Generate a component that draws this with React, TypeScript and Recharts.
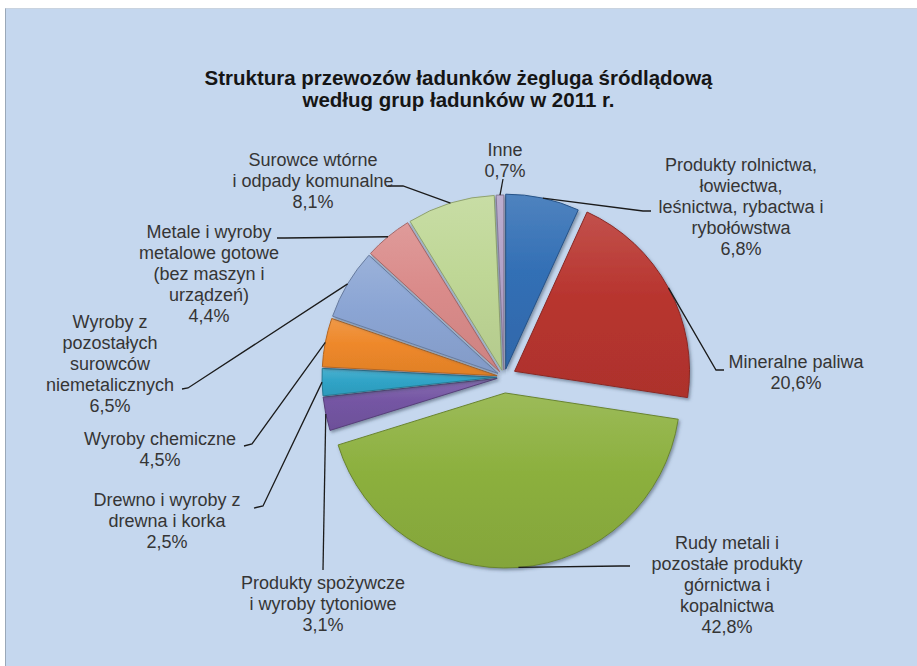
import React from "react";
import { PieChart, Pie, Sector } from "recharts";

// share of inland waterway cargo by group, 2011 (%)
const categories = [
  "Produkty rolnictwa,\nłowiectwa,\nleśnictwa, rybactwa i\nrybołówstwa",
  "Mineralne paliwa",
  "Rudy metali i\npozostałe produkty\ngórnictwa i\nkopalnictwa",
  "Produkty spożywcze\ni wyroby tytoniowe",
  "Drewno i wyroby z\ndrewna i korka",
  "Wyroby chemiczne",
  "Wyroby z\npozostałych\nsurowców\nniemetalicznych",
  "Metale i wyroby\nmetalowe gotowe\n(bez maszyn i\nurządzeń)",
  "Surowce wtórne\ni odpady komunalne",
  "Inne",
];
const shares = [6.8, 20.6, 42.8, 3.1, 2.5, 4.5, 6.5, 4.4, 8.1, 0.7];
const colors = [
  "#326FB5",
  "#B8352F",
  "#8CB03E",
  "#7455A3",
  "#30A4C7",
  "#EE882A",
  "#8BA5D4",
  "#DA8B8A",
  "#BFD796",
  "#B1A1C7",
];

const data = categories.map((name, i) => ({ name, value: shares[i] }));

const RADIAN = Math.PI / 180;
const EXPLODE = [8, 12, 16, 7, 7, 7, 7, 7, 7, 7];

// label block (first line centre) + leader line points, relative to pie centre
const LABEL_LAYOUT = [
  { tx: 237, ty: -212, pts: [[139, -166], [147, -166]] },
  { tx: 292, ty: -15, pts: [[212, -7], [220, -7]] },
  { tx: 223, ty: 166, pts: [[116, 189], [126, 189]] },
  { tx: -181, ty: 206, pts: [[-181, 193]] },
  { tx: -337, ty: 123, pts: [[-241, 129], [-250, 131]] },
  { tx: -344, ty: 62, pts: [[-252, 67], [-260, 69]] },
  { tx: -394, ty: -55, pts: [[-316, 11], [-322, 12]] },
  { tx: -295, ty: -145, pts: [[-219, -139], [-227, -139]] },
  { tx: -191, ty: -217, pts: [[-101, -191], [-116, -191]] },
  { tx: 1, ty: -227, pts: [[-1, -198]] },
];

const FONT = "'Liberation Sans', Arial, sans-serif";

function mix(hex: string, target: number, amt: number) {
  const n = parseInt(hex.slice(1), 16);
  const ch = [(n >> 16) & 255, (n >> 8) & 255, n & 255].map((c) =>
    Math.round(c + (target - c) * amt)
  );
  return "#" + ch.map((c) => c.toString(16).padStart(2, "0")).join("");
}

function idxOf(props: any) {
  if (typeof props.index === "number") return props.index;
  const name = props.name ?? props.payload?.name;
  return categories.indexOf(name);
}

function offset(i: number, midAngle: number) {
  const off = EXPLODE[i] ?? 0;
  return {
    dx: off * Math.cos(-midAngle * RADIAN),
    dy: off * Math.sin(-midAngle * RADIAN),
  };
}

function ExplodedSector(props: any) {
  const i = idxOf(props);
  const { dx, dy } = offset(i, props.midAngle);
  return (
    <g filter="url(#shadow)">
      <Sector
        cx={props.cx + dx}
        cy={props.cy + dy}
        innerRadius={props.innerRadius}
        outerRadius={props.outerRadius}
        startAngle={props.startAngle}
        endAngle={props.endAngle}
        fill={`url(#grad${i})`}
        stroke={mix(colors[i], 0, 0.25)}
        strokeWidth={1}
      />
    </g>
  );
}

function renderLabel(props: any) {
  const i = idxOf(props);
  const { cx, cy, midAngle, outerRadius } = props;
  const lay = LABEL_LAYOUT[i];
  const r = outerRadius + (EXPLODE[i] ?? 0);
  const ax = cx + r * Math.cos(-midAngle * RADIAN);
  const ay = cy + r * Math.sin(-midAngle * RADIAN);
  const pts = [[ax, ay], ...lay.pts.map(([x, y]) => [cx + x, cy + y])]
    .map((p) => p.join(","))
    .join(" ");
  const lines = [...categories[i].split("\n"), shares[i].toFixed(1).replace(".", ",") + "%"];
  const tx = cx + lay.tx;
  const ty = cy + lay.ty;
  return (
    <g key={`lab${i}`}>
      <polyline points={pts} fill="none" stroke="#1b1b1b" strokeWidth={1.3} />
      <text
        x={tx}
        y={ty}
        textAnchor="middle"
        fontFamily={FONT}
        fontSize={18}
        fill="#353535"
      >
        {lines.map((ln, k) => (
          <tspan key={k} x={tx} y={ty + 6 + k * 21}>
            {ln}
          </tspan>
        ))}
      </text>
    </g>
  );
}

export default function App() {
  return (
    <div style={{ position: "absolute", left: 0, top: 0, width: 917, height: 666 }}>
      <div
        style={{
          position: "absolute",
          left: 5,
          top: 8,
          right: 0,
          bottom: 0,
          background: "#C5D7EE",
          borderLeft: "1px solid #9aa8b8",
          borderTop: "1px solid #c9d3df",
        }}
      />
      <div
        style={{
          position: "absolute",
          left: 0,
          top: 67,
          width: 917,
          textAlign: "center",
          fontFamily: FONT,
          fontWeight: "bold",
          fontSize: 20.5,
          lineHeight: "22px",
          color: "#151515",
        }}
      >
        Struktura przewozów ładunków żegluga śródlądową
        <br />
        według grup ładunków w 2011 r.
      </div>
      <div style={{ position: "absolute", left: 0, top: 0 }}>
        <PieChart width={917} height={666} margin={{ top: 0, right: 0, bottom: 0, left: 0 }}>
          <defs>
            <filter id="shadow" x="-20%" y="-20%" width="140%" height="140%">
              <feDropShadow dx="1.5" dy="2" stdDeviation="1.6" floodColor="#34445a" floodOpacity="0.5" />
            </filter>
            {colors.map((c, i) => (
              <linearGradient key={i} id={`grad${i}`} x1="0" y1="0" x2="0" y2="1">
                <stop offset="0%" stopColor={mix(c, 255, 0.14)} />
                <stop offset="45%" stopColor={c} />
                <stop offset="100%" stopColor={mix(c, 0, 0.06)} />
              </linearGradient>
            ))}
          </defs>
          <Pie
            data={data}
            dataKey="value"
            nameKey="name"
            cx={504}
            cy={377}
            outerRadius={175}
            startAngle={90}
            endAngle={-270}
            stroke="none"
            isAnimationActive={false}
            labelLine={false}
            label={renderLabel}
            shape={ExplodedSector}
          />
        </PieChart>
      </div>
    </div>
  );
}
